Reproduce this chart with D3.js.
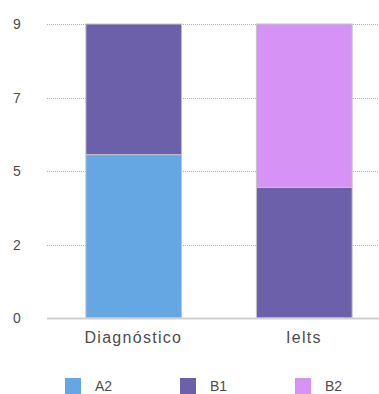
<!DOCTYPE html>
<html>
<head>
<meta charset="utf-8">
<script src="https://cdn.jsdelivr.net/npm/d3@7"></script>
<style>
  html, body { margin: 0; padding: 0; background: #fff; }
  svg { display: block; font-family: "Liberation Sans", Arial, sans-serif; }
</style>
</head>
<body>
<svg id="chart" width="379" height="394"></svg>
<script>
// Exam results per level
const categories = ["Diagnóstico", "Ielts"];
const seriesNames = ["A2", "B1", "B2"];
const seriesA2 = [5, 0];
const seriesB1 = [4, 4];
const seriesB2 = [0, 5];
const seriesColors = ["#64a7e2", "#6b60a9", "#d693f5"];
const yTickValues = [0, 2.25, 4.5, 6.75, 9];
const yTickLabels = ["0", "2", "5", "7", "9"];

const svg = d3.select("#chart");
const margin = { left: 47, right: 0, top: 24, bottom: 76 };
const width = 379, height = 394;

const rows = categories.map((c, i) => ({
  category: c, A2: seriesA2[i], B1: seriesB1[i], B2: seriesB2[i]
}));
const stacked = d3.stack().keys(seriesNames)(rows);

const x = d3.scaleBand()
  .domain(categories)
  .range([48, 390])
  .paddingInner(0.4386)
  .paddingOuter(0.222);

const y = d3.scaleLinear()
  .domain([0, 9])
  .range([height - margin.bottom, margin.top]);

// dotted gridlines
svg.append("g")
  .selectAll("line")
  .data(yTickValues.slice(1))
  .join("line")
  .attr("x1", margin.left)
  .attr("x2", width)
  .attr("y1", d => Math.round(y(d)) + 0.5)
  .attr("y2", d => Math.round(y(d)) + 0.5)
  .attr("stroke", "#b0b0b0")
  .attr("stroke-width", 1)
  .attr("stroke-dasharray", "1,1");

// y tick labels
svg.append("g")
  .selectAll("text")
  .data(yTickValues)
  .join("text")
  .attr("x", 13)
  .attr("y", d => y(d) + 5)
  .attr("font-size", 14)
  .attr("fill", "#4d4d4d")
  .text((d, i) => yTickLabels[i]);

// stacked bars
svg.append("g")
  .selectAll("g")
  .data(stacked)
  .join("g")
  .attr("fill", (d, i) => seriesColors[i])
  .selectAll("rect")
  .data(d => d.filter(s => s[1] - s[0] > 0))
  .join("rect")
  .attr("x", d => x(d.data.category))
  .attr("y", d => y(d[1]))
  .attr("width", x.bandwidth())
  .attr("height", d => y(d[0]) - y(d[1]))
  .attr("stroke", "#c4c4c4")
  .attr("stroke-width", 1);

// baseline
svg.append("line")
  .attr("x1", margin.left)
  .attr("x2", width)
  .attr("y1", y(0) + 0.5)
  .attr("y2", y(0) + 0.5)
  .attr("stroke", "#cfcfcf")
  .attr("stroke-width", 2);

// category labels
const letterSpacing = 1.3;
svg.append("g")
  .selectAll("text")
  .data(categories)
  .join("text")
  .attr("x", d => x(d) + x.bandwidth() / 2 + letterSpacing / 2 - 1)
  .attr("y", 343)
  .attr("text-anchor", "middle")
  .attr("font-size", 16)
  .attr("letter-spacing", letterSpacing)
  .attr("fill", "#4d4d4d")
  .text(d => d);

// legend
const legendX = [65, 180, 295];
const legend = svg.append("g")
  .selectAll("g")
  .data(seriesNames)
  .join("g")
  .attr("transform", (d, i) => `translate(${legendX[i]},378)`);
legend.append("rect")
  .attr("width", 16)
  .attr("height", 16)
  .attr("fill", (d, i) => seriesColors[i]);
legend.append("text")
  .attr("x", 30)
  .attr("y", 13)
  .attr("font-size", 14)
  .attr("fill", "#4d4d4d")
  .text(d => d);
</script>
</body>
</html>
